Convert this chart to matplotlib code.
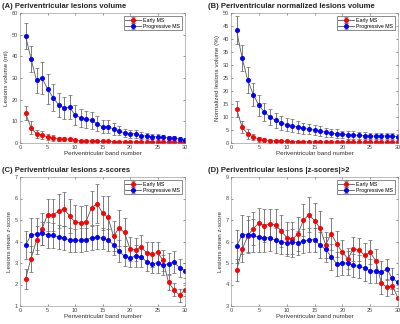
import numpy as np
import matplotlib
matplotlib.use("Agg")
import matplotlib.pyplot as plt

bands = np.arange(1, 31)

# (A) lesion volume (ml)
vol_early = [13.7, 7.1, 4.2, 3.7, 2.8, 2.3, 1.8, 1.8, 1.7, 1.2,
             1.0, 0.9, 0.9, 0.8, 0.7, 0.7, 0.6, 0.6, 0.5, 0.5,
             0.5, 0.4, 0.4, 0.4, 0.4, 0.3, 0.3, 0.3, 0.3, 0.3]
vol_early_err = [3.2, 3.0, 2.0, 2.0, 1.5, 1.2, 1.0, 1.0, 0.8, 0.6,
                 0.5, 0.5, 0.5, 0.4, 0.4, 0.4, 0.3, 0.3, 0.3, 0.3,
                 0.3, 0.2, 0.2, 0.2, 0.2, 0.2, 0.2, 0.2, 0.2, 0.2]
vol_prog = [49.5, 39.0, 28.9, 30.0, 25.0, 21.0, 17.7, 16.2, 16.6, 12.9,
            11.7, 11.0, 10.5, 8.9, 7.4, 7.5, 6.5, 5.7, 4.6, 4.3,
            4.2, 3.4, 3.2, 2.9, 2.8, 2.6, 2.3, 2.2, 1.8, 1.4]
vol_prog_err = [6.0, 6.0, 5.8, 7.2, 7.0, 6.2, 5.5, 5.2, 5.5, 4.6,
                4.2, 4.0, 4.0, 3.5, 3.0, 3.0, 2.6, 2.2, 2.0, 1.8,
                1.8, 1.5, 1.5, 1.2, 1.2, 1.2, 1.0, 1.0, 1.0, 0.8]

# (B) normalized lesion volume (%)
nvol_early = [13.1, 6.0, 3.5, 2.3, 1.5, 1.2, 0.9, 0.8, 0.7, 0.6,
              0.5, 0.5, 0.5, 0.4, 0.4, 0.4, 0.4, 0.4, 0.4, 0.3,
              0.3, 0.3, 0.3, 0.3, 0.3, 0.3, 0.3, 0.3, 0.3, 0.3]
nvol_early_err = [3.1, 2.3, 1.8, 1.2, 1.0, 0.7, 0.5, 0.4, 0.4, 0.3,
                  0.3, 0.3, 0.3, 0.2, 0.2, 0.2, 0.2, 0.2, 0.2, 0.2,
                  0.2, 0.2, 0.2, 0.2, 0.2, 0.2, 0.2, 0.2, 0.2, 0.2]
nvol_prog = [43.3, 32.7, 24.2, 18.6, 14.5, 11.9, 10.0, 8.7, 7.7, 7.1,
             6.7, 6.0, 5.6, 5.3, 5.0, 4.6, 4.1, 3.8, 3.6, 3.3,
             3.2, 3.1, 2.9, 2.8, 2.7, 2.7, 2.7, 2.7, 2.6, 2.4]
nvol_prog_err = [5.4, 5.0, 5.0, 4.5, 4.0, 3.5, 3.2, 3.0, 2.8, 2.6,
                 2.5, 2.3, 2.2, 2.0, 2.0, 1.8, 1.8, 1.6, 1.6, 1.5,
                 1.5, 1.4, 1.3, 1.3, 1.2, 1.2, 1.2, 1.2, 1.2, 1.1]

# (C) lesions mean z-score
z_early = [2.25, 3.2, 4.05, 4.58, 5.25, 5.23, 5.42, 5.5, 5.2, 4.9,
           4.87, 4.92, 5.57, 5.76, 5.33, 5.12, 4.25, 4.62, 4.42, 3.65,
           3.62, 3.75, 3.48, 3.4, 3.5, 3.12, 2.1, 1.75, 1.5, 1.75]
z_early_err = [0.45, 0.6, 0.65, 0.75, 0.75, 0.75, 0.8, 0.8, 0.8, 0.8,
               0.8, 0.8, 0.8, 0.9, 0.8, 1.0, 0.7, 0.85, 0.65, 0.55,
               0.55, 0.55, 0.5, 0.6, 0.5, 0.5, 0.35, 0.3, 0.3, 0.3]
z_prog = [3.83, 4.3, 4.35, 4.38, 4.3, 4.28, 4.22, 4.15, 4.08, 4.05,
          4.06, 4.09, 4.16, 4.2, 4.15, 4.06, 3.86, 3.55, 3.32, 3.25,
          3.32, 3.3, 3.06, 2.97, 3.0, 2.9, 2.97, 3.05, 2.77, 2.65]
z_prog_err = [0.65, 0.8, 0.75, 0.55, 0.6, 0.6, 0.55, 0.55, 0.55, 0.55,
              0.55, 0.55, 0.55, 0.55, 0.5, 0.5, 0.5, 0.5, 0.45, 0.45,
              0.5, 0.5, 0.45, 0.45, 0.45, 0.45, 0.5, 0.5, 0.4, 0.35]

# (D) lesions |z-scores|>2, mean z-score
z2_early = [4.67, 5.63, 6.26, 6.6, 6.85, 6.74, 6.82, 6.77, 6.5, 6.18,
            6.1, 6.34, 6.99, 7.25, 6.97, 6.62, 5.85, 6.36, 5.9, 5.5,
            5.2, 5.66, 5.62, 5.35, 5.5, 5.1, 4.07, 3.87, 3.95, 3.36]
z2_early_err = [0.5, 0.6, 0.75, 0.75, 0.7, 0.75, 0.7, 0.75, 0.75, 0.75,
                0.8, 0.8, 0.75, 0.8, 0.8, 0.8, 0.6, 0.75, 0.6, 0.55,
                0.5, 0.55, 0.55, 0.6, 0.55, 0.55, 0.5, 0.4, 0.4, 0.5]
z2_prog = [5.77, 6.32, 6.32, 6.28, 6.2, 6.18, 6.17, 6.05, 6.0, 5.93,
           6.0, 5.92, 6.02, 6.08, 6.08, 5.83, 5.63, 5.29, 4.96, 5.0,
           5.0, 4.89, 4.84, 4.78, 4.64, 4.62, 4.59, 4.7, 4.28, 4.1]
z2_prog_err = [0.75, 0.9, 0.85, 0.75, 0.7, 0.65, 0.6, 0.6, 0.6, 0.6,
               0.6, 0.55, 0.55, 0.55, 0.55, 0.6, 0.6, 0.6, 0.55, 0.55,
               0.55, 0.55, 0.55, 0.6, 0.55, 0.55, 0.5, 0.5, 0.5, 0.4]

panels = [
    ("(A) Periventricular lesions volume", "Lesions volume (ml)",
     vol_early, vol_early_err, vol_prog, vol_prog_err, (0, 60), 10),
    ("(B) Periventricular normalized lesions volume", "Normalized lesions volume (%)",
     nvol_early, nvol_early_err, nvol_prog, nvol_prog_err, (0, 50), 5),
    ("(C) Periventricular lesions z-scores", "Lesions mean z-score",
     z_early, z_early_err, z_prog, z_prog_err, (1, 7), 1),
    ("(D) Periventricular lesions |z-scores|>2", "Lesions mean z-score",
     z2_early, z2_early_err, z2_prog, z2_prog_err, (3, 9), 1),
]

# axes boxes in pixels: left, top, right, bottom
boxes = [(20, 13, 185, 143), (231, 13, 398, 143),
         (20, 177, 185, 306), (231, 177, 398, 306)]
title_pos = [(2, 6), (208, 6), (2, 170), (208, 170)]

W, H = 400, 324
fig = plt.figure(figsize=(W / 100, H / 100), dpi=100)
plt.rcParams['font.family'] = 'Liberation Sans'

for (title, ylab, e, ee, p, pe, ylim, ystep), box, tp in zip(panels, boxes, title_pos):
    l, t, r, b = box
    ax = fig.add_axes([l / W, 1 - b / H, (r - l) / W, (b - t) / H])
    for y, err, c, lab in [(e, ee, 'red', 'Early MS'), (p, pe, 'blue', 'Progressive MS')]:
        ax.errorbar(bands, y, yerr=err, color='#555555', lw=0.6,
                    ecolor='#666666', elinewidth=0.6, capsize=1.3, capthick=0.5,
                    marker='o', ms=2.6, mfc=c, mec=c, label=lab)
    ax.set_xlim(0, 30)
    ax.set_ylim(*ylim)
    ax.set_xticks(np.arange(0, 31, 5))
    ax.set_yticks(np.arange(ylim[0], ylim[1] + 0.01, ystep))
    ax.tick_params(direction='in', top=True, right=True, length=1.5, width=0.4,
                   labelsize=4, colors='#444444', pad=1.5)
    for s in ax.spines.values():
        s.set_linewidth(0.4)
        s.set_color('#888888')
    ax.set_xlabel("Periventricular band number", fontsize=4.5, color='#333333', labelpad=1)
    ax.set_ylabel(ylab, fontsize=4.5, color='#333333', labelpad=2)
    leg = ax.legend(loc='upper right', fontsize=3.8, frameon=True, fancybox=False,
                    borderpad=0.3, handlelength=3, handletextpad=0.4, labelspacing=0.2,
                    borderaxespad=0.6)
    leg.get_frame().set_edgecolor('black')
    leg.get_frame().set_linewidth(0.4)
    fig.text(tp[0] / W, 1 - tp[1] / H, title, fontsize=5.5, fontweight='bold',
             ha='left', va='center', color='#222222')

fig.savefig("out.png", dpi=100)
